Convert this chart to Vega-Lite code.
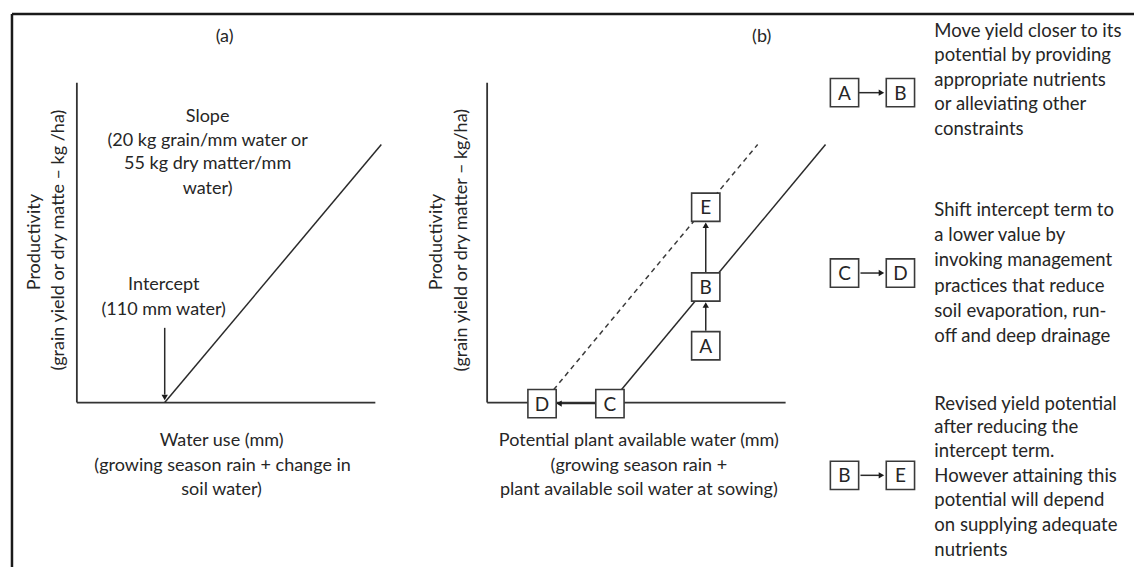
{
  "$schema": "https://vega.github.io/schema/vega-lite/v6.json",
  "width": 1136,
  "height": 569,
  "padding": 0,
  "autosize": {"type": "fit", "contains": "padding"},
  "background": "white",
  "config": {"view": {"stroke": null}, "font": "Lato"},
  "datasets": {
    "segments": [
      {"kind": "frame", "x": 12, "y": 14, "x2": 1136, "y2": 14},
      {"kind": "frame", "x": 12, "y": 14, "x2": 12, "y2": 569},
      {"kind": "axis", "x": 77, "y": 83, "x2": 77, "y2": 404},
      {"kind": "axis", "x": 77, "y": 404, "x2": 376, "y2": 404},
      {"kind": "axis", "x": 488, "y": 83, "x2": 488, "y2": 404},
      {"kind": "axis", "x": 488, "y": 404, "x2": 787, "y2": 404},
      {"kind": "solid", "x": 165, "y": 404, "x2": 382, "y2": 145},
      {"kind": "solid", "x": 611, "y": 405, "x2": 827, "y2": 145},
      {"kind": "dashed", "x": 543, "y": 405, "x2": 759, "y2": 145},
      {"kind": "arrow", "x": 165, "y": 329, "x2": 165, "y2": 396},
      {"kind": "arrow", "x": 707, "y": 332, "x2": 707, "y2": 308},
      {"kind": "arrow", "x": 707, "y": 273, "x2": 707, "y2": 228},
      {"kind": "arrow", "x": 597, "y": 405, "x2": 562, "y2": 405},
      {"kind": "arrow", "x": 860, "y": 93, "x2": 881, "y2": 93},
      {"kind": "arrow", "x": 862, "y": 274, "x2": 881, "y2": 274},
      {"kind": "arrow", "x": 862, "y": 477, "x2": 881, "y2": 477}
    ],
    "heads": [
      {"dir": "down", "x": 165, "y": 399},
      {"dir": "up", "x": 707, "y": 306},
      {"dir": "up", "x": 707, "y": 226},
      {"dir": "left", "x": 560, "y": 405},
      {"dir": "right", "x": 883, "y": 93},
      {"dir": "right", "x": 883, "y": 274},
      {"dir": "right", "x": 883, "y": 477}
    ],
    "boxes": [
      {"label": "D", "x": 543, "y": 405},
      {"label": "C", "x": 611, "y": 405},
      {"label": "A", "x": 707, "y": 347},
      {"label": "B", "x": 707, "y": 288},
      {"label": "E", "x": 707, "y": 208},
      {"label": "A", "x": 846, "y": 93},
      {"label": "B", "x": 902, "y": 93},
      {"label": "C", "x": 846, "y": 274},
      {"label": "D", "x": 902, "y": 274},
      {"label": "B", "x": 846, "y": 477},
      {"label": "E", "x": 902, "y": 477}
    ],
    "centered": [
      {"text": "(a)", "x": 225, "y": 37},
      {"text": "(b)", "x": 763, "y": 37},
      {"text": "Slope", "x": 208, "y": 117},
      {"text": "(20 kg grain/mm water or", "x": 208, "y": 141},
      {"text": "55 kg dry matter/mm", "x": 208, "y": 165},
      {"text": "water)", "x": 208, "y": 190},
      {"text": "Intercept", "x": 164, "y": 286},
      {"text": "(110 mm water)", "x": 164, "y": 311},
      {"text": "Water use (mm)", "x": 222, "y": 443},
      {"text": "(growing season rain + change in", "x": 223, "y": 468},
      {"text": "soil water)", "x": 222, "y": 492},
      {"text": "Potential plant available water (mm)", "x": 640, "y": 443},
      {"text": "(growing season rain +", "x": 640, "y": 468},
      {"text": "plant available soil water at sowing)", "x": 640, "y": 492}
    ],
    "rotated": [
      {"text": "Productivity", "x": 35, "y": 243},
      {"text": "(grain yield or dry matte – kg /ha)", "x": 59, "y": 241},
      {"text": "Productivity", "x": 438, "y": 243},
      {"text": "(grain yield or dry matter – kg/ha)", "x": 463, "y": 241}
    ],
    "notes": [
      {"text": "Move yield closer to its", "x": 936, "y": 31},
      {"text": "potential by providing", "x": 936, "y": 55.5},
      {"text": "appropriate nutrients", "x": 936, "y": 80},
      {"text": "or alleviating other", "x": 936, "y": 104.5},
      {"text": "constraints", "x": 936, "y": 129},
      {"text": "Shift intercept term to", "x": 936, "y": 211},
      {"text": "a lower value by", "x": 936, "y": 236},
      {"text": "invoking management", "x": 936, "y": 261},
      {"text": "practices that reduce", "x": 936, "y": 287},
      {"text": "soil evaporation, run-", "x": 936, "y": 312},
      {"text": "off and deep drainage", "x": 936, "y": 337},
      {"text": "Revised yield potential", "x": 936, "y": 405},
      {"text": "after reducing the", "x": 936, "y": 429},
      {"text": "intercept term.", "x": 936, "y": 453},
      {"text": "However attaining this", "x": 936, "y": 478},
      {"text": "potential will depend", "x": 936, "y": 502},
      {"text": "on supplying adequate", "x": 936, "y": 527},
      {"text": "nutrients", "x": 936, "y": 552}
    ]
  },
  "encoding": {
    "x": {"field": "x", "type": "quantitative", "scale": {"domain": [0, 1136], "nice": false, "zero": false}, "axis": null},
    "y": {"field": "y", "type": "quantitative", "scale": {"domain": [0, 569], "nice": false, "zero": false, "reverse": true}, "axis": null}
  },
  "layer": [
    {
      "data": {"name": "segments"},
      "transform": [{"filter": "datum.kind === 'frame'"}],
      "mark": {"type": "rule", "color": "#1a1a1a", "strokeWidth": 2.5},
      "encoding": {"x2": {"field": "x2"}, "y2": {"field": "y2"}}
    },
    {
      "data": {"name": "segments"},
      "transform": [{"filter": "datum.kind === 'axis'"}],
      "mark": {"type": "rule", "color": "#333333", "strokeWidth": 1.8},
      "encoding": {"x2": {"field": "x2"}, "y2": {"field": "y2"}}
    },
    {
      "data": {"name": "segments"},
      "transform": [{"filter": "datum.kind === 'solid' || datum.kind === 'arrow'"}],
      "mark": {"type": "rule", "color": "#2a2a2a", "strokeWidth": 1.5},
      "encoding": {"x2": {"field": "x2"}, "y2": {"field": "y2"}}
    },
    {
      "data": {"name": "segments"},
      "transform": [{"filter": "datum.kind === 'dashed'"}],
      "mark": {"type": "rule", "color": "#3a3a3a", "strokeWidth": 1.5, "strokeDash": [5, 4]},
      "encoding": {"x2": {"field": "x2"}, "y2": {"field": "y2"}}
    },
    {
      "data": {"name": "heads"},
      "mark": {"type": "point", "filled": true, "color": "#1a1a1a", "opacity": 1, "size": 40},
      "encoding": {
        "shape": {"field": "dir", "type": "nominal", "scale": {"domain": ["up", "down", "left", "right"], "range": ["triangle-up", "triangle-down", "triangle-left", "triangle-right"]}, "legend": null}
      }
    },
    {
      "data": {"name": "boxes"},
      "mark": {"type": "square", "size": 800, "fill": "white", "stroke": "#3a3a3a", "strokeWidth": 1.6, "opacity": 1}
    },
    {
      "data": {"name": "boxes"},
      "mark": {"type": "text", "fontSize": 19, "color": "#262626", "align": "center", "baseline": "middle", "dy": 1},
      "encoding": {"text": {"field": "label"}}
    },
    {
      "data": {"name": "centered"},
      "mark": {"type": "text", "fontSize": 18, "color": "#262626", "align": "center", "baseline": "middle"},
      "encoding": {"text": {"field": "text"}}
    },
    {
      "data": {"name": "rotated"},
      "mark": {"type": "text", "fontSize": 18, "color": "#262626", "align": "center", "baseline": "middle", "angle": 270},
      "encoding": {"text": {"field": "text"}}
    },
    {
      "data": {"name": "notes"},
      "mark": {"type": "text", "fontSize": 18.5, "color": "#262626", "align": "left", "baseline": "middle"},
      "encoding": {"text": {"field": "text"}}
    }
  ]
}
